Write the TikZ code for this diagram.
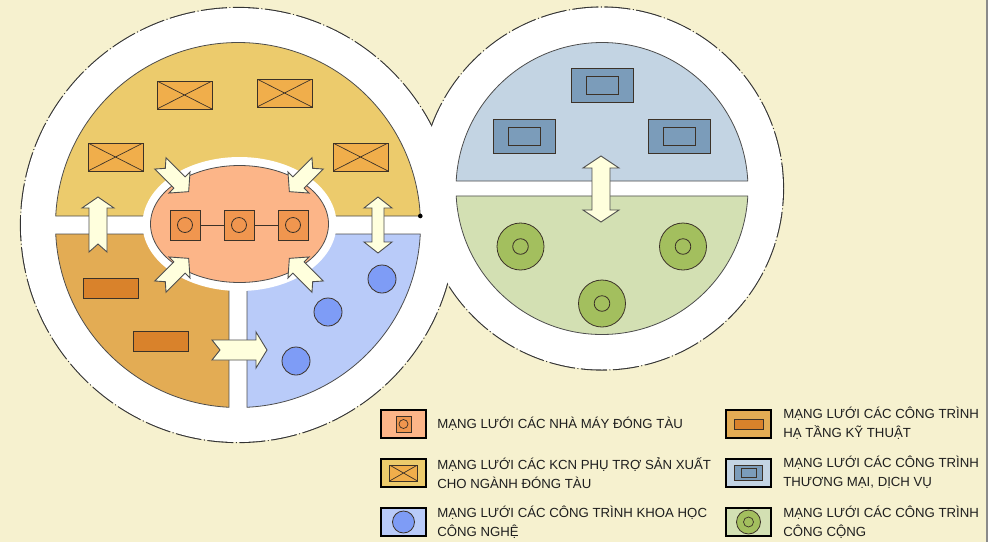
\documentclass[tikz,border=0pt]{standalone}
\usepackage{fontspec}
\setmainfont{Liberation Sans}
\definecolor{cpaper}{HTML}{F6F1CF}
\definecolor{cframe}{HTML}{8A8A8A}
\definecolor{cring}{HTML}{333333}
\definecolor{cedge}{HTML}{4D4D4D}
\definecolor{cdark}{HTML}{3C3228}
\definecolor{czyellow}{HTML}{ECCB6C}
\definecolor{czorange}{HTML}{E3AC54}
\definecolor{czblue}{HTML}{B9CBF9}
\definecolor{czsteel}{HTML}{C3D4E3}
\definecolor{czgreen}{HTML}{D3E0B3}
\definecolor{csalmon}{HTML}{FCB588}
\definecolor{cfactory}{HTML}{F0964F}
\definecolor{csupply}{HTML}{F0AE4B}
\definecolor{cinfra}{HTML}{D9822B}
\definecolor{cscience}{HTML}{7E9CF6}
\definecolor{ctrade}{HTML}{7B9CBA}
\definecolor{cpublic}{HTML}{A3BF5E}
\definecolor{carrow}{HTML}{FFFFDD}
\definecolor{ctext}{HTML}{1E1E1E}

% notched block arrow: centre x, centre y, angle, length, head length, head half-width, shaft half-width, notch depth
\newcommand{\notcharrow}[8]{%
  \path[blockarrow,shift={(#1,#2)},rotate=#3]
    ({-#4/2},#7) -- ({#4/2-#5},#7) -- ({#4/2-#5},#6) -- ({#4/2},0)
    -- ({#4/2-#5},-#6) -- ({#4/2-#5},-#7) -- ({-#4/2},-#7) -- ({-#4/2+#8},0) -- cycle;}
% two-headed block arrow: centre x, centre y, angle, length, head length, head half-width, shaft half-width
\newcommand{\twowayarrow}[7]{%
  \path[blockarrow,shift={(#1,#2)},rotate=#3]
    ({-#4/2+#5},#7) -- ({#4/2-#5},#7) -- ({#4/2-#5},#6) -- ({#4/2},0)
    -- ({#4/2-#5},-#6) -- ({#4/2-#5},-#7) -- ({-#4/2+#5},-#7) -- ({-#4/2+#5},-#6)
    -- ({-#4/2},0) -- ({-#4/2+#5},#6) -- cycle;}

\begin{document}
\begin{tikzpicture}[x=1pt,y=1pt,
  zone/.style={draw=cedge,line width=0.8pt},
  ring/.style={draw=cring,line width=2.2pt,dash pattern=on 26pt off 2.5pt on 1pt off 2.5pt},
  blockarrow/.style={fill=carrow,draw=cedge,line width=0.9pt,line join=miter},
  factorybox/.style={draw=cdark,line width=0.8pt,fill=cfactory,minimum width=30pt,minimum height=30pt,inner sep=0pt,
    path picture={\draw[cdark,line width=0.8pt] (path picture bounding box.center) circle[radius=7.5pt];}},
  supplybox/.style={draw=cdark,fill=csupply,line width=0.8pt,minimum width=55pt,minimum height=28pt,inner sep=0pt,
    path picture={\draw[cdark,line width=0.7pt]
      (path picture bounding box.south west) -- (path picture bounding box.north east)
      (path picture bounding box.north west) -- (path picture bounding box.south east);}},
  infrabox/.style={draw=cdark,fill=cinfra,line width=0.8pt,minimum width=55pt,minimum height=20pt,inner sep=0pt},
  sciencedot/.style={circle,draw=cdark,fill=cscience,line width=0.8pt,minimum size=28pt,inner sep=0pt},
  tradebox/.style={draw=cdark,fill=ctrade,line width=0.8pt,minimum width=62pt,minimum height=34pt,inner sep=0pt,
    path picture={\draw[cdark,line width=0.9pt]
      ([shift={(-16pt,-9pt)}]path picture bounding box.center) rectangle ([shift={(16pt,9pt)}]path picture bounding box.center);}},
  publicdot/.style={circle,draw=cdark,fill=cpublic,line width=0.8pt,minimum size=47pt,inner sep=0pt,
    path picture={\draw[cdark,line width=0.8pt] (path picture bounding box.center) circle[radius=7.8pt];}},
  keybox/.style={draw=black,line width=2.2pt,minimum width=45pt,minimum height=28pt,inner sep=0pt},
  keytext/.style={anchor=west,inner sep=0pt,align=left,text=ctext,font=\fontsize{13.2}{19.5}\selectfont}
]
\useasboundingbox (0,0) rectangle (1005,-542);

% sheet
\fill[white] (0,0) rectangle (1005,-542);
\fill[cpaper] (0,0) rectangle (987,-542);
\draw[cframe,line width=1.8pt] (987,0) -- (987,-542);

% white rings with dashed outer outline
\draw[ring] (238,-225) circle[radius=217];
\draw[ring] (602,-188.5) circle[radius=181];
\fill[white] (238,-225) circle[radius=217];
\fill[white] (602,-188.5) circle[radius=181];

% left disc zones
\path[zone,fill=czyellow] (238,-225) ++(2.83:182.5) arc[start angle=2.83,end angle=177.17,radius=182.5] -- cycle;
\path[zone,fill=czorange] (238,-225) ++(182.83:182.5) arc[start angle=182.83,end angle=267.17,radius=182.5] -- (229,-234) -- cycle;
\path[zone,fill=czblue] (238,-225) ++(272.83:182.5) arc[start angle=272.83,end angle=357.17,radius=182.5] -- (247,-234) -- cycle;

% right disc zones
\path[zone,fill=czsteel] (602,-188.5) ++(2.94:146) arc[start angle=2.94,end angle=177.06,radius=146] -- cycle;
\path[zone,fill=czgreen] (602,-188.5) ++(182.94:146) arc[start angle=182.94,end angle=357.06,radius=146] -- cycle;

% shipyard core
\fill[white] (239.5,-224) ellipse[x radius=97,y radius=67];
\path[zone,fill=csalmon] (239.5,-224) ellipse[x radius=89,y radius=58.5];
\node[factorybox] (f1) at (185,-225) {};
\node[factorybox] (f2) at (239,-225) {};
\node[factorybox] (f3) at (293,-225) {};
\draw[cdark,line width=0.8pt] (f1) -- (f2) (f2) -- (f3);

% supporting industrial zones
\node[supplybox] (s1) at (184.5,-95) {};
\node[supplybox] (s2) at (284.5,-93) {};
\node[supplybox] (s3) at (115.5,-157) {};
\node[supplybox] (s4) at (360.5,-157) {};

% technical infrastructure
\node[infrabox] (i1) at (111,-288) {};
\node[infrabox] (i2) at (160.5,-341) {};

% science and technology
\node[sciencedot] (k1) at (382,-279) {};
\node[sciencedot] (k2) at (328,-312) {};
\node[sciencedot] (k3) at (296,-361) {};

% trade and services
\node[tradebox] (t1) at (602,-85) {};
\node[tradebox] (t2) at (524.5,-136) {};
\node[tradebox] (t3) at (679.5,-136) {};

% public buildings
\node[publicdot] (g1) at (520.5,-246.5) {};
\node[publicdot] (g2) at (683,-246.5) {};
\node[publicdot] (g3) at (602,-303.5) {};

% links between zones
\notcharrow{98}{-224.5}{90}{55}{11}{16}{9}{8}
\notcharrow{239.5}{-350}{0}{55}{11}{18}{10}{8}
\twowayarrow{378}{-225}{90}{56}{11}{14}{6}
\twowayarrow{601}{-189}{90}{66}{12}{18}{9}
\notcharrow{174.5}{-177.5}{-45}{40}{13}{15}{8}{7}
\notcharrow{303.5}{-177.5}{-135}{40}{13}{15}{8}{7}
\notcharrow{174.5}{-272.5}{45}{40}{13}{15}{8}{7}
\notcharrow{303.5}{-272.5}{135}{40}{13}{15}{8}{7}

\fill[black] (420.3,-216) circle[radius=2.3];

% legend, left column
\node[keybox,fill=csalmon] (key1) at (403.5,-424) {};
\node[draw=cdark,fill=cfactory,line width=0.8pt,minimum width=15pt,minimum height=16pt,inner sep=0pt,
  path picture={\draw[cdark,line width=0.7pt] (path picture bounding box.center) circle[radius=4.5pt];}] (key1i) at (key1.center) {};
\node[keytext] (txt1) at ([xshift=10pt]key1.east) {MẠNG LƯỚI CÁC NHÀ MÁY ĐÓNG TÀU};

\node[keybox,fill=czyellow] (key2) at (403.5,-473) {};
\node[draw=cdark,fill=csupply,line width=0.8pt,minimum width=28pt,minimum height=16pt,inner sep=0pt,
  path picture={\draw[cdark,line width=0.7pt]
    (path picture bounding box.south west) -- (path picture bounding box.north east)
    (path picture bounding box.north west) -- (path picture bounding box.south east);}] (key2i) at (key2.center) {};
\node[keytext] (txt2) at ([xshift=10pt]key2.east) {MẠNG LƯỚI CÁC KCN PHỤ TRỢ SẢN XUẤT\\CHO NGÀNH ĐÓNG TÀU};

\node[keybox,fill=czblue] (key3) at (403.5,-522) {};
\node[circle,draw=cdark,fill=cscience,line width=0.8pt,minimum size=22pt,inner sep=0pt] (key3i) at (key3.center) {};
\node[keytext] (txt3) at ([xshift=10pt]key3.east) {MẠNG LƯỚI CÁC CÔNG TRÌNH KHOA HỌC\\CÔNG NGHỆ};

% legend, right column
\node[keybox,fill=czorange] (key4) at (748.5,-424) {};
\node[draw=cdark,fill=cinfra,line width=0.8pt,minimum width=29pt,minimum height=10pt,inner sep=0pt] (key4i) at (key4.center) {};
\node[keytext] (txt4) at ([xshift=11pt,yshift=1pt]key4.east) {MẠNG LƯỚI CÁC CÔNG TRÌNH\\HẠ TẦNG KỸ THUẬT};

\node[keybox,fill=czsteel] (key5) at (748.5,-473) {};
\node[draw=cdark,fill=ctrade,line width=0.8pt,minimum width=28pt,minimum height=15pt,inner sep=0pt,
  path picture={\draw[cdark,line width=0.8pt]
    ([shift={(-7.5pt,-4.5pt)}]path picture bounding box.center) rectangle ([shift={(7.5pt,4.5pt)}]path picture bounding box.center);}] (key5i) at (key5.center) {};
\node[keytext] (txt5) at ([xshift=11pt,yshift=1pt]key5.east) {MẠNG LƯỚI CÁC CÔNG TRÌNH\\THƯƠNG MẠI, DỊCH VỤ};

\node[keybox,fill=czgreen] (key6) at (748.5,-522) {};
\node[circle,draw=cdark,fill=cpublic,line width=0.8pt,minimum size=24pt,inner sep=0pt,
  path picture={\draw[cdark,line width=0.7pt] (path picture bounding box.center) circle[radius=5pt];}] (key6i) at (key6.center) {};
\node[keytext] (txt6) at ([xshift=11pt]key6.east) {MẠNG LƯỚI CÁC CÔNG TRÌNH\\CÔNG CỘNG};
\end{tikzpicture}
\end{document}
